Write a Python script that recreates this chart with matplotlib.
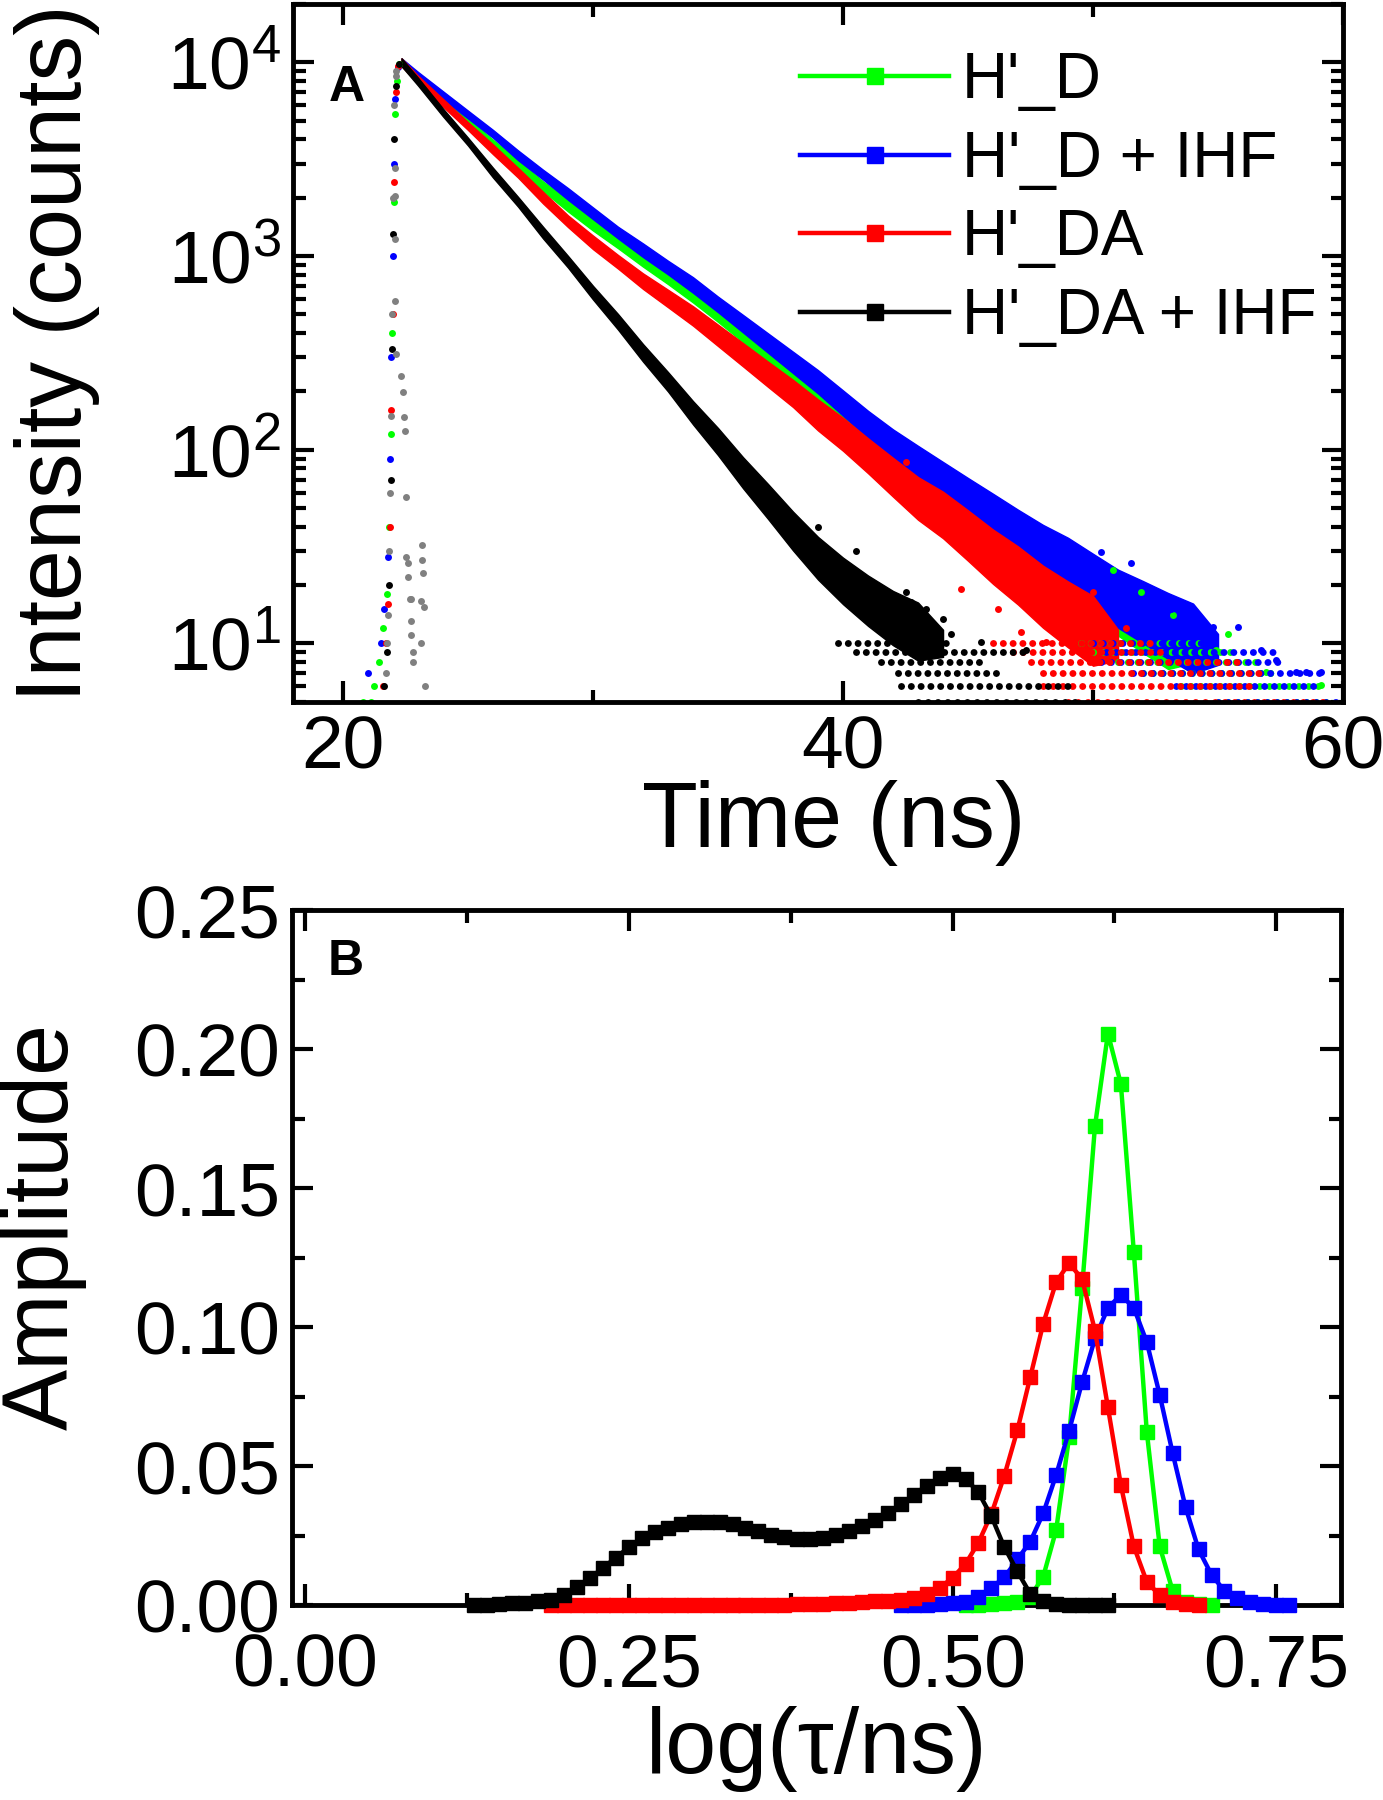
import numpy as np
import matplotlib
matplotlib.use("Agg")
import matplotlib.pyplot as plt
from matplotlib.lines import Line2D
from matplotlib.ticker import FixedLocator, LogLocator, FormatStrFormatter, NullFormatter

plt.rcParams["font.family"] = ["Liberation Sans", "DejaVu Sans"]
plt.rcParams["mathtext.fontset"] = "custom"
plt.rcParams["mathtext.rm"] = "Liberation Sans"
plt.rcParams["mathtext.it"] = "Liberation Sans:italic"
plt.rcParams["mathtext.bf"] = "Liberation Sans:bold"

GREEN = "#00ff00"
BLUE = "#0000ff"
RED = "#ff0000"
BLACK = "#000000"
GREY = "#808080"

LABELS = ["H'_D", "H'_D + IHF", "H'_DA", "H'_DA + IHF"]

# ---- panel A: fluorescence decays (band centre in counts, spread in decades)
T_GREEN = [22.34, 23, 24, 25, 26, 27, 28, 29, 30, 31, 32, 33, 34, 35, 36, 37, 38, 39,
           40, 41, 42, 43, 44, 45, 46, 47, 48, 49, 50, 51, 52, 53, 54]
C_GREEN = [10000, 8320, 6310, 4900, 3800, 2950, 2290, 1820, 1450, 1175, 955, 776, 631,
           501, 398, 316, 251, 200, 155, 120, 95, 78, 63, 51, 42, 34, 27.5, 22.4, 18.6,
           15.5, 12.9, 10.9, 9.5]
S_GREEN = [0.02, 0.02, 0.02, 0.02, 0.02, 0.025, 0.025, 0.03, 0.03, 0.03, 0.035, 0.035,
           0.04, 0.04, 0.045, 0.05, 0.055, 0.06, 0.065, 0.07, 0.075, 0.08, 0.085, 0.09,
           0.1, 0.11, 0.12, 0.13, 0.14, 0.15, 0.16, 0.17, 0.08]

T_BLUE = [22.34, 23, 24, 25, 26, 27, 28, 29, 30, 31, 32, 33, 34, 35, 36, 37, 38, 39,
          40, 41, 42, 43, 44, 45, 46, 47, 48, 49, 50, 51, 52, 53, 54, 55]
C_BLUE = [10000, 8510, 6760, 5370, 4270, 3310, 2630, 2090, 1660, 1320, 1070, 871, 708,
          562, 447, 355, 282, 224, 174, 135, 107, 87, 71, 58, 47, 38, 31, 26, 21, 17,
          14.5, 12.3, 10.6, 9.3]
S_BLUE = [0.02, 0.02, 0.02, 0.02, 0.02, 0.025, 0.025, 0.03, 0.03, 0.03, 0.035, 0.035,
          0.04, 0.04, 0.045, 0.05, 0.055, 0.06, 0.065, 0.07, 0.075, 0.08, 0.085, 0.09,
          0.1, 0.11, 0.12, 0.13, 0.14, 0.15, 0.16, 0.17, 0.18, 0.08]

T_RED = [22.34, 23, 24, 25, 26, 27, 28, 29, 30, 31, 32, 33, 34, 35, 36, 37, 38, 39,
         40, 41, 42, 43, 44, 45, 46, 47, 48, 49, 50, 51]
C_RED = [10000, 8130, 6170, 4680, 3550, 2690, 2000, 1510, 1175, 933, 741, 603, 490, 389,
         309, 245, 195, 151, 120, 93, 72, 56, 46, 36, 28, 22.4, 17.4, 14.1, 11.6, 9.8]
S_RED = [0.02, 0.02, 0.02, 0.02, 0.025, 0.025, 0.03, 0.03, 0.035, 0.035, 0.04, 0.045,
         0.05, 0.055, 0.06, 0.065, 0.07, 0.08, 0.085, 0.09, 0.1, 0.11, 0.12, 0.13, 0.14,
         0.15, 0.16, 0.17, 0.18, 0.08]

T_BLACK = [22.34, 23, 24, 25, 26, 27, 28, 29, 30, 31, 32, 33, 34, 35, 36, 37, 38, 39,
           40, 41, 42, 43, 44]
C_BLACK = [10000, 7940, 5500, 3890, 2690, 1905, 1320, 933, 646, 457, 316, 224, 155, 110,
           76, 54, 38, 27.5, 21, 16.6, 13.5, 11.5, 10]
S_BLACK = [0.02, 0.02, 0.02, 0.02, 0.025, 0.025, 0.03, 0.03, 0.035, 0.04, 0.045, 0.05,
           0.06, 0.07, 0.08, 0.09, 0.1, 0.11, 0.12, 0.13, 0.14, 0.15, 0.07]

# rising edge points
RISE_T_GREEN = [20.8, 21.1, 21.25, 21.45, 21.6, 21.75, 21.85, 21.92, 21.97, 22.02, 22.07, 22.15, 22.25]
RISE_C_GREEN = [5, 5, 6, 8, 12, 18, 40, 120, 400, 1900, 5400, 8000, 9800]
RISE_T_BLUE = [21.0, 21.5, 21.65, 21.8, 21.88, 21.93, 21.98, 22.03, 22.08, 22.2]
RISE_C_BLUE = [7, 10, 15, 28, 90, 300, 1000, 3000, 6500, 9500]
RISE_T_RED = [21.6, 21.7, 21.8, 21.87, 21.93, 21.98, 22.03, 22.1, 22.2]
RISE_C_RED = [6, 10, 16, 40, 160, 500, 2400, 7000, 9600]
RISE_T_BLACK = [21.65, 21.75, 21.83, 21.9, 21.96, 22.0, 22.05, 22.12, 22.22]
RISE_C_BLACK = [6, 9, 20, 70, 330, 1300, 4000, 7500, 9800]

# stray points scattered around the low-count end of each decay
STRAY_T_GREEN = [51.9, 53.2, 55.4, 54.9, 56.9, 59.1, 50.8]
STRAY_C_GREEN = [18.4, 14.0, 11.2, 9.2, 7.1, 6.1, 24.0]
STRAY_T_BLUE = [50.3, 53.1, 54.4, 54.8, 55.8, 56.7, 57.3, 58.1, 58.5, 59.1, 51.5]
STRAY_C_BLUE = [29.6, 15.1, 12.1, 12.1, 12.1, 9.2, 8.2, 7.1, 7.1, 7.1, 26.0]
STRAY_T_RED = [42.5, 43.7, 45.5, 44.7, 47.1, 48.9, 48.1, 50.0, 46.2, 51.3]
STRAY_C_RED = [86, 58, 35, 19, 11.4, 14.5, 10.2, 18.4, 15.0, 12.0]
STRAY_T_BLACK = [42.5, 42.7, 43.3, 42.4, 44.0, 42.9, 43.6, 44.3, 45.5, 47.3, 39.0, 40.5]
STRAY_C_BLACK = [18.4, 16.3, 15.1, 14.0, 13.4, 12.4, 11.9, 11.2, 10.2, 9.2, 40.0, 30.0]

# instrument response (grey)
IRF_T = [21.7, 21.75, 21.8, 21.85, 21.88, 21.9, 21.95, 22.0, 22.05, 22.1, 22.13, 22.07,
         22.07, 22.07, 22.07, 22.13, 22.33, 22.4, 22.43, 22.47, 22.51, 22.53, 22.6, 22.6,
         22.67, 22.73, 22.73, 22.73, 22.8, 22.8, 23.1, 23.13, 23.17, 23.17, 23.2, 23.23,
         23.27]
IRF_C = [7, 10, 14, 30, 60, 150, 500, 2000, 6000, 9000, 8500, 2850, 2040, 1220, 586, 311,
         240, 198, 147, 125, 57, 28, 26, 22, 17, 17, 13, 11, 9, 8, 10, 16.5, 32, 27, 23,
         15.4, 6]

# low-count tails: rows of photon-count levels (count, start, end)
ROW_LEVELS = [10, 9, 8, 7, 6, 5]
ROW_START_GREEN = [49.5, 50.0, 51.0, 52.0, 53.5, 55.0]
ROW_END_GREEN = [54.5, 55.5, 56.5, 57.3, 59.3, 59.5]
ROW_START_BLUE = [50.0, 50.5, 50.3, 51.6, 53.3, 55.0]
ROW_END_BLUE = [54.3, 57.3, 57.5, 59.2, 59.1, 59.7]
ROW_START_RED = [46.0, 46.8, 47.5, 48.0, 48.0, 49.0]
ROW_END_RED = [52.5, 53.0, 56.0, 57.0, 56.3, 59.3]
ROW_START_BLACK = [39.8, 40.5, 41.5, 42.2, 42.3, 43.0]
ROW_END_BLACK = [44.2, 47.3, 45.6, 46.3, 49.3, 49.6]

# ---- panel B: lifetime distributions
X_GREEN = [0.51, 0.52, 0.53, 0.54, 0.55, 0.56, 0.57, 0.58, 0.59, 0.60, 0.61, 0.62, 0.63,
           0.64, 0.65, 0.66, 0.67, 0.68, 0.69, 0.70]
Y_GREEN = [0.0001, 0.0002, 0.0004, 0.0007, 0.0012, 0.0030, 0.0102, 0.0270, 0.0604, 0.1140,
           0.1723, 0.2056, 0.1874, 0.1270, 0.0624, 0.0211, 0.0051, 0.0012, 0.0003, 0.0]

X_BLUE = [0.46, 0.47, 0.48, 0.49, 0.50, 0.51, 0.52, 0.53, 0.54, 0.55, 0.56, 0.57, 0.58,
          0.59, 0.60, 0.61, 0.62, 0.63, 0.64, 0.65, 0.66, 0.67, 0.68, 0.69, 0.70, 0.71,
          0.72, 0.73, 0.74, 0.75, 0.76]
Y_BLUE = [0.0, 0.0001, 0.0002, 0.0004, 0.0007, 0.0012, 0.0028, 0.0062, 0.0100, 0.0164,
          0.0228, 0.0330, 0.0468, 0.0627, 0.0801, 0.0959, 0.1069, 0.1116, 0.1069, 0.0946,
          0.0756, 0.0546, 0.0351, 0.0200, 0.0109, 0.0051, 0.0026, 0.0012, 0.0005, 0.0002,
          0.0]

X_RED = [0.19, 0.20, 0.21, 0.22, 0.23, 0.24, 0.25, 0.26, 0.27, 0.28, 0.29, 0.30, 0.31,
         0.32, 0.33, 0.34, 0.35, 0.36, 0.37, 0.38, 0.39, 0.40, 0.41, 0.42, 0.43, 0.44,
         0.45, 0.46, 0.47, 0.48, 0.49, 0.50, 0.51, 0.52, 0.53, 0.54, 0.55, 0.56, 0.57,
         0.58, 0.59, 0.60, 0.61, 0.62, 0.63, 0.64, 0.65, 0.66, 0.67, 0.68, 0.69]
Y_RED = [0.0, 0.0, 0.0, 0.0, 0.0, 0.0, 0.0, 0.0, 0.0, 0.0, 0.0, 0.0, 0.0, 0.0, 0.0,
         0.0001, 0.0001, 0.0002, 0.0002, 0.0003, 0.0004, 0.0005, 0.0006, 0.0008, 0.0010,
         0.0013, 0.0016, 0.0020, 0.0026, 0.0040, 0.0062, 0.0098, 0.0148, 0.0225, 0.0328,
         0.0466, 0.0628, 0.0820, 0.1012, 0.1162, 0.1230, 0.1173, 0.0987, 0.0711, 0.0431,
         0.0211, 0.0084, 0.0035, 0.0012, 0.0003, 0.0]

X_BLACK = [0.13, 0.14, 0.15, 0.16, 0.17, 0.18, 0.19, 0.20, 0.21, 0.22, 0.23, 0.24, 0.25,
           0.26, 0.27, 0.28, 0.29, 0.30, 0.31, 0.32, 0.33, 0.34, 0.35, 0.36, 0.37, 0.38,
           0.39, 0.40, 0.41, 0.42, 0.43, 0.44, 0.45, 0.46, 0.47, 0.48, 0.49, 0.50, 0.51,
           0.52, 0.53, 0.54, 0.55, 0.56, 0.57, 0.58, 0.59, 0.60, 0.61, 0.62]
Y_BLACK = [0.0, 0.0002, 0.0004, 0.0006, 0.0009, 0.0013, 0.0020, 0.0035, 0.0066, 0.0097,
           0.0134, 0.0171, 0.0208, 0.0241, 0.0263, 0.0278, 0.0290, 0.0298, 0.0300, 0.0298,
           0.0290, 0.0278, 0.0266, 0.0253, 0.0244, 0.0237, 0.0236, 0.0241, 0.0251, 0.0266,
           0.0285, 0.0306, 0.0331, 0.0362, 0.0396, 0.0430, 0.0458, 0.0470, 0.0455, 0.0405,
           0.0319, 0.0208, 0.0121, 0.0041, 0.0015, 0.0005, 0.0002, 0.0, 0.0, 0.0]

TICK_SIZE = 54
LABEL_SIZE = 66
LEGEND_SIZE = 46


def draw_decay(ax, t, counts, spread, color):
    c = np.asarray(counts, dtype=float)
    s = np.asarray(spread, dtype=float)
    ax.fill_between(t, c * 10 ** (-s), c * 10 ** s, color=color, lw=1.0)


def draw_rows(ax, starts, ends, color):
    rows = ax.hlines(ROW_LEVELS, starts, ends, colors=color, linewidth=5,
                     linestyles=(0, (0.01, 1.4)))
    rows.set_capstyle("round")


def draw_dots(ax, t, counts, color):
    ax.plot(t, counts, "o", ms=5, color=color, mec="none")


def style_axes(ax, xpad):
    for spine in ax.spines.values():
        spine.set_linewidth(3.5)
    ax.tick_params(which="both", direction="in", top=True, right=True, width=3)
    ax.tick_params(which="major", length=15)
    ax.tick_params(which="minor", length=9)
    ax.tick_params(axis="x", labelsize=TICK_SIZE, pad=xpad)
    ax.tick_params(axis="y", labelsize=TICK_SIZE, pad=9)


fig = plt.figure(figsize=(13.83, 18.0), dpi=100)
axA = fig.add_axes([0.2119, 0.6102, 0.7592, 0.3876])
axB = fig.add_axes([0.2114, 0.1083, 0.7582, 0.3861])

# ---- panel A
decays = [
    (T_GREEN, C_GREEN, S_GREEN, ROW_START_GREEN, ROW_END_GREEN,
     RISE_T_GREEN, RISE_C_GREEN, STRAY_T_GREEN, STRAY_C_GREEN, GREEN),
    (T_BLUE, C_BLUE, S_BLUE, ROW_START_BLUE, ROW_END_BLUE,
     RISE_T_BLUE, RISE_C_BLUE, STRAY_T_BLUE, STRAY_C_BLUE, BLUE),
    (T_RED, C_RED, S_RED, ROW_START_RED, ROW_END_RED,
     RISE_T_RED, RISE_C_RED, STRAY_T_RED, STRAY_C_RED, RED),
    (T_BLACK, C_BLACK, S_BLACK, ROW_START_BLACK, ROW_END_BLACK,
     RISE_T_BLACK, RISE_C_BLACK, STRAY_T_BLACK, STRAY_C_BLACK, BLACK),
]
for t, c, s, r0, r1, rt, rc, st, sc, color in decays:
    draw_decay(axA, t, c, s, color)
    draw_rows(axA, r0, r1, color)
    draw_dots(axA, rt, rc, color)
    draw_dots(axA, st, sc, color)
draw_dots(axA, IRF_T, IRF_C, GREY)

axA.set_yscale("log")
axA.set_xlim(18, 60)
axA.set_ylim(5, 2.0e4)
axA.xaxis.set_major_locator(FixedLocator([20, 40, 60]))
axA.xaxis.set_minor_locator(FixedLocator([30, 50]))
axA.yaxis.set_major_locator(LogLocator(base=10, numticks=10))
axA.yaxis.set_minor_locator(LogLocator(base=10, subs=np.arange(2, 10), numticks=20))
axA.yaxis.set_minor_formatter(NullFormatter())
style_axes(axA, xpad=9)
axA.set_xlabel("Time (ns)", fontsize=LABEL_SIZE)
axA.set_ylabel("Intensity (counts)", fontsize=LABEL_SIZE)
axA.xaxis.set_label_coords(0.515, -0.112)
axA.yaxis.set_label_coords(-0.184, 0.5)
axA.text(0.051, 0.879, "A", transform=axA.transAxes, fontsize=36, fontweight="bold",
         ha="center", va="center")

# ---- panel B
series_b = [
    (X_GREEN, Y_GREEN, GREEN),
    (X_BLUE, Y_BLUE, BLUE),
    (X_RED, Y_RED, RED),
    (X_BLACK, Y_BLACK, BLACK),
]
handles = []
for (x, y, color), label in zip(series_b, LABELS):
    axB.plot(x, y, "-s", color=color, lw=3.2, ms=10, mec=color, clip_on=False, zorder=3)
    handles.append(Line2D([], [], color=color, lw=3.2, marker="s", ms=11, mec=color,
                          label=label))

axB.set_xlim(-0.01, 0.80)
axB.set_ylim(0, 0.25)
axB.xaxis.set_major_locator(FixedLocator([0.0, 0.25, 0.50, 0.75]))
axB.xaxis.set_minor_locator(FixedLocator([0.125, 0.375, 0.625]))
axB.yaxis.set_major_locator(FixedLocator([0.0, 0.05, 0.10, 0.15, 0.20, 0.25]))
axB.yaxis.set_minor_locator(FixedLocator([0.025, 0.075, 0.125, 0.175, 0.225]))
axB.xaxis.set_major_formatter(FormatStrFormatter("%.2f"))
axB.yaxis.set_major_formatter(FormatStrFormatter("%.2f"))
style_axes(axB, xpad=20)
axB.set_xlabel("log(\u03c4/ns)", fontsize=LABEL_SIZE)
axB.set_ylabel("Amplitude", fontsize=LABEL_SIZE)
axB.xaxis.set_label_coords(0.5, -0.145)
axB.yaxis.set_label_coords(-0.196, 0.545)
axB.text(0.051, 0.925, "B", transform=axB.transAxes, fontsize=36, fontweight="bold",
         ha="center", va="center")

axA.legend(handles=handles, loc="upper left", bbox_to_anchor=(0.483, 0.932),
           frameon=False, fontsize=LEGEND_SIZE, handlelength=2.33, handletextpad=0.2,
           labelspacing=0.29, borderpad=0, borderaxespad=0, numpoints=1)

fig.savefig("out.png", dpi=100)
